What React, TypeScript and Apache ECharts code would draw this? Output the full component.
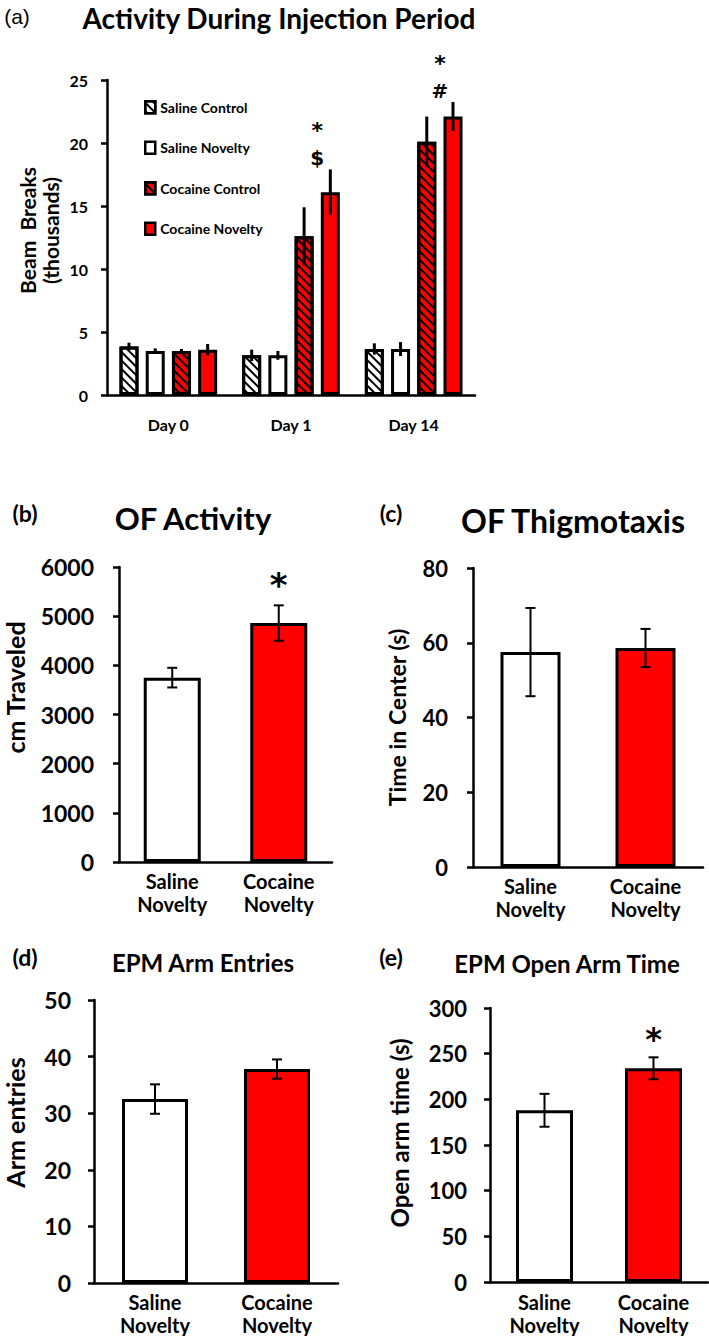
import React, { useEffect, useRef } from 'react';
import * as echarts from 'echarts';

// ---------- Data ----------
const days = ['Day 0', 'Day 1', 'Day 14'];
const seriesNames = ['Saline Control', 'Saline Novelty', 'Cocaine Control', 'Cocaine Novelty'];
const salineControl = [3.85, 3.15, 3.65];
const salineControlErr = [0.3, 0.45, 0.45];
const salineNovelty = [3.5, 3.15, 3.65];
const salineNoveltyErr = [0.2, 0.35, 0.55];
const cocaineControl = [3.5, 12.6, 20.1];
const cocaineControlErr = [0.15, 2.3, 2.0];
const cocaineNovelty = [3.6, 16.1, 22.1];
const cocaineNoveltyErr = [0.45, 1.8, 1.15];
const injectionSig = [[], ['*', '$'], ['*', '#']];

const groups = ['Saline\nNovelty', 'Cocaine\nNovelty'];
const ofActivity = [3750, 4860];
const ofActivityErr = [200, 360];
const ofActivitySig = ['', '*'];
const ofThigmotaxis = [57.5, 58.6];
const ofThigmotaxisErr = [11.8, 5.1];
const epmEntries = [32.5, 37.8];
const epmEntriesErr = [2.6, 1.7];
const epmOpenTime = [188, 234];
const epmOpenTimeErr = [18, 12];
const epmOpenTimeSig = ['', '*'];

// ---------- Styling ----------
const FONT = 'Lato';
const STAR_FONT = 'DejaVu Sans';
const RED = '#ff0000';
const A_BAR_W = 19;
const A_BAR_GAP = 0.38;
const aOffset = (i: number) => (i - 1.5) * A_BAR_W * (1 + A_BAR_GAP);

const hatch = {
  symbol: 'rect',
  symbolSize: 1,
  dashArrayX: [1, 0],
  dashArrayY: [1.6, 3.2],
  rotation: Math.PI / 4,
  color: '#000',
};

function yAxis(gridIndex: number, max: number, interval: number, name: string, nameGap: number,
  labelSize: number, nameSize: number, labelMargin: number, nameLH: number, shiftUp: number) {
  return {
    type: 'value', gridIndex, min: 0, max, interval,
    name, nameLocation: 'middle', nameGap, nameRotate: 90, nameMoveOverlap: false,
    nameTextStyle: {
      fontFamily: FONT, fontWeight: 'bold', fontSize: nameSize, color: '#000', lineHeight: nameLH,
      padding: [0, 0, 0, shiftUp * 2],
    },
    axisLine: { show: true, lineStyle: { color: '#000', width: 2.5 } },
    axisTick: { show: true, length: 6, lineStyle: { color: '#000', width: 2.5 } },
    splitLine: { show: false },
    axisLabel: { fontFamily: FONT, fontWeight: 'bold', fontSize: labelSize, color: '#000', margin: labelMargin, formatter: (v: number) => String(v) },
  };
}

function xAxis(gridIndex: number, data: string[], labelSize: number, margin: number, lh: number) {
  return {
    type: 'category', gridIndex, data,
    axisTick: { show: false },
    axisLine: { show: true, onZero: false, lineStyle: { color: '#000', width: 2.5 } },
    axisLabel: { fontFamily: FONT, fontWeight: 'bold', fontSize: labelSize, color: '#000', margin, lineHeight: lh, interval: 0 },
  };
}

function pairBars(idx: number, values: number[], barWidth: number) {
  return {
    type: 'bar', xAxisIndex: idx, yAxisIndex: idx, barWidth,
    data: values.map((v, i) => ({ value: v, itemStyle: { color: i === 0 ? '#ffffff' : RED } })),
    itemStyle: { borderColor: '#000', borderWidth: 3 },
  };
}

function pairErrors(idx: number, values: number[], errs: number[]) {
  return {
    type: 'custom', xAxisIndex: idx, yAxisIndex: idx, z: 10,
    data: values.map((v, i) => [i, v, errs[i]]),
    encode: { x: 0, y: 1 },
    renderItem: (params: any, api: any) => {
      const c = api.value(0), m = api.value(1), e = api.value(2);
      const p1 = api.coord([c, m + e]);
      const p2 = api.coord([c, m - e]);
      const x = p1[0];
      const st = { stroke: '#000', lineWidth: 2 };
      return {
        type: 'group',
        children: [
          { type: 'line', shape: { x1: x, y1: p1[1], x2: x, y2: p2[1] }, style: st },
          { type: 'line', shape: { x1: x - 5, y1: p1[1], x2: x + 5, y2: p1[1] }, style: st },
          { type: 'line', shape: { x1: x - 5, y1: p2[1], x2: x + 5, y2: p2[1] }, style: st },
        ],
      };
    },
  };
}

const txtStyle = (text: string, font: string) => ({
  text, font, fill: '#000', align: 'center', verticalAlign: 'middle', textAlign: 'center', textVerticalAlign: 'middle',
});

function pairSig(idx: number, values: number[], errs: number[], marks: string[], size: number, lift: number) {
  return {
    type: 'custom', xAxisIndex: idx, yAxisIndex: idx, z: 11,
    data: values.map((v, i) => [i, v + errs[i]]),
    encode: { x: 0, y: 1 },
    renderItem: (params: any, api: any) => {
      const t = marks[params.dataIndex];
      if (!t) return null;
      const p = api.coord([api.value(0), api.value(1)]);
      return { type: 'text', x: p[0], y: p[1] - lift, style: txtStyle(t, `bold ${size}px ${STAR_FONT}`) };
    },
  };
}

function label(text: string, x: number, y: number, size: number, weight = 'bold', family = FONT) {
  return { type: 'text', x, y, style: txtStyle(text, `${weight} ${size}px ${family}`) };
}

export default function App() {
  const ref = useRef<HTMLDivElement>(null);
  useEffect(() => {
    if (!ref.current) return;
    const chart = echarts.init(ref.current, null, { renderer: 'svg' });
    const aSets = [
      [salineControl, salineControlErr],
      [salineNovelty, salineNoveltyErr],
      [cocaineControl, cocaineControlErr],
      [cocaineNovelty, cocaineNoveltyErr],
    ];
    const aColors = ['#ffffff', '#ffffff', RED, RED];
    const aDecal = [hatch, null, hatch, null];

    const aBars = aSets.map((s, i) => ({
      type: 'bar', name: seriesNames[i], xAxisIndex: 0, yAxisIndex: 0,
      barWidth: A_BAR_W, barGap: `${A_BAR_GAP * 100}%`,
      data: s[0],
      itemStyle: { color: aColors[i], borderColor: '#000', borderWidth: 3, decal: aDecal[i] || undefined },
    }));

    const aErrData: number[][] = [];
    aSets.forEach((s, si) => s[0].forEach((v, d) => aErrData.push([d, si, v, s[1][d]])));

    const aSigData = days.map((_, d) => [d, Math.max(cocaineControl[d] + cocaineControlErr[d], cocaineNovelty[d] + cocaineNoveltyErr[d])]);

    const option: any = {
      animation: false,
      backgroundColor: '#ffffff',
      grid: [
        { left: 107, top: 80, width: 368, height: 315 },
        { left: 115, top: 567, width: 217, height: 295 },
        { left: 473, top: 568, width: 230, height: 299 },
        { left: 90, top: 1000, width: 248, height: 285 },
        { left: 490, top: 1008, width: 218, height: 276 },
      ],
      legend: {
        data: seriesNames, orient: 'vertical', left: 139, top: 95,
        itemWidth: 10, itemHeight: 12, itemGap: 26, icon: 'rect', selectedMode: false,
        textStyle: { fontFamily: FONT, fontWeight: 'bold', fontSize: 14, color: '#000' },
        itemStyle: { borderWidth: 2.5, borderColor: '#000' },
      },
      xAxis: [
        xAxis(0, days, 16, 20, 18),
        xAxis(1, groups, 20, 7, 23),
        xAxis(2, groups, 20, 7, 23),
        xAxis(3, groups, 20, 7, 23),
        xAxis(4, groups, 20, 8, 23),
      ],
      yAxis: [
        yAxis(0, 25, 5, 'Beam  Breaks\n(thousands)', 45, 16, 21, 19, 23, 7),
        yAxis(1, 6000, 1000, 'cm Traveled', 90, 23, 25, 25, 28, 27),
        yAxis(2, 80, 20, 'Time in Center (s)', 63, 22, 23, 25, 27, 0),
        yAxis(3, 50, 10, 'Arm entries', 65, 23, 25, 23, 28, 19),
        yAxis(4, 300, 50, 'Open arm time (s)', 77, 22, 24, 23, 28, 12),
      ],
      series: [
        ...aBars,
        {
          type: 'custom', xAxisIndex: 0, yAxisIndex: 0, z: 10,
          data: aErrData, encode: { x: 0, y: 2 },
          renderItem: (params: any, api: any) => {
            const d = api.value(0), s = api.value(1), m = api.value(2), e = api.value(3);
            const p1 = api.coord([d, m + e]);
            const p2 = api.coord([d, m - e]);
            const x = p1[0] + aOffset(s);
            return { type: 'line', shape: { x1: x, y1: p1[1], x2: x, y2: p2[1] }, style: { stroke: '#000', lineWidth: 3 } };
          },
        },
        {
          type: 'custom', xAxisIndex: 0, yAxisIndex: 0, z: 11,
          data: aSigData, encode: { x: 0, y: 1 },
          renderItem: (params: any, api: any) => {
            const marks = injectionSig[params.dataIndex];
            if (!marks.length) return null;
            const p = api.coord([api.value(0), api.value(1)]);
            const x = p[0] + (aOffset(2) + aOffset(3)) / 2;
            return {
              type: 'group',
              children: [
                { type: 'text', x, y: p[1] - 39, style: txtStyle(marks[0], `bold 22px ${STAR_FONT}`) },
                { type: 'text', x, y: p[1] - 11, style: txtStyle(marks[1], `bold 20px ${STAR_FONT}`) },
              ],
            };
          },
        },
        pairBars(1, ofActivity, 57),
        pairErrors(1, ofActivity, ofActivityErr),
        pairSig(1, ofActivity, ofActivityErr, ofActivitySig, 34, 20),
        pairBars(2, ofThigmotaxis, 60),
        pairErrors(2, ofThigmotaxis, ofThigmotaxisErr),
        pairBars(3, epmEntries, 66),
        pairErrors(3, epmEntries, epmEntriesErr),
        pairBars(4, epmOpenTime, 57),
        pairErrors(4, epmOpenTime, epmOpenTimeErr),
        pairSig(4, epmOpenTime, epmOpenTimeErr, epmOpenTimeSig, 32, 18),
      ],
      graphic: [
        label('(a)', 17, 16, 21, 'normal', 'Liberation Sans Narrow, Liberation Sans'),
        label('Activity During Injection Period', 279, 18, 28, 'bold'),
        label('(b)', 25, 513, 23),
        label('OF Activity', 193, 518, 31),
        label('(c)', 391, 513, 23),
        label('OF Thigmotaxis', 573, 520, 32),
        label('(d)', 25, 957, 23),
        label('EPM Arm Entries', 203, 962, 24),
        label('(e)', 391, 957, 23),
        label('EPM Open Arm Time', 567, 963, 24),
      ],
    };
    chart.setOption(option);
    return () => chart.dispose();
  }, []);
  return <div ref={ref} style={{ position: 'absolute', left: 0, top: 0, width: 709, height: 1336, background: '#fff' }} />;
}
